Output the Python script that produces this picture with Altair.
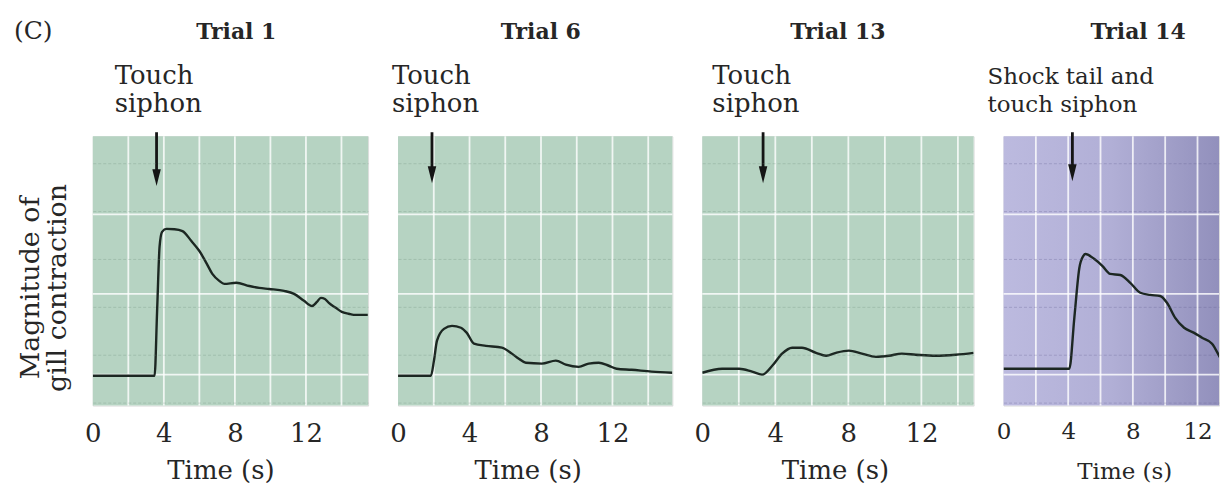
import altair as alt
import pandas as pd

# ---------------- data ----------------
trials = ["Trial 1", "Trial 6", "Trial 13", "Trial 14"]
stimulus = ["Touch\nsiphon", "Touch\nsiphon", "Touch\nsiphon", "Shock tail and\ntouch siphon"]

t1 = [0.0, 1.5, 3.48, 3.62, 3.76, 3.9, 4.15, 4.6, 5.05, 5.55, 6.0, 6.39, 6.73, 7.12, 7.4, 8.08,
      8.81, 9.37, 9.93, 10.77, 11.33, 11.89, 12.34, 12.62, 12.84, 13.07, 13.29, 13.68, 14.02,
      14.41, 14.69, 15.48]
y1 = [1.11, 1.11, 1.11, 3.5, 5.9, 6.45, 6.56, 6.55, 6.48, 6.11, 5.74, 5.30, 4.89, 4.63, 4.52, 4.56,
      4.44, 4.37, 4.33, 4.26, 4.15, 3.89, 3.70, 3.85, 4.00, 3.96, 3.81, 3.63, 3.48, 3.41, 3.37, 3.37]

t2 = [0.0, 1.84, 2.01, 2.18, 2.57, 3.02, 3.52, 3.85, 4.25, 4.92, 5.81, 6.37, 6.76, 7.15, 8.04,
      8.83, 9.39, 10.11, 10.67, 11.23, 11.79, 12.23, 13.07, 14.19, 15.35]
y2 = [1.11, 1.11, 1.67, 2.41, 2.85, 2.96, 2.89, 2.70, 2.30, 2.22, 2.15, 1.93, 1.74, 1.59, 1.56,
      1.67, 1.52, 1.44, 1.56, 1.59, 1.48, 1.37, 1.33, 1.26, 1.22]

t3 = [0.0, 1.09, 2.02, 2.73, 3.28, 3.83, 4.37, 4.92, 5.46, 6.23, 6.78, 7.32, 8.03, 8.74, 9.51,
      10.22, 10.93, 11.69, 12.79, 13.88, 14.86]
y3 = [1.22, 1.37, 1.37, 1.26, 1.15, 1.48, 1.93, 2.15, 2.15, 1.96, 1.85, 1.96, 2.04, 1.93, 1.81,
      1.85, 1.93, 1.89, 1.85, 1.89, 1.96]

t4 = [0.0, 4.07, 4.38, 4.69, 4.94, 5.06, 5.62, 6.11, 6.60, 7.22, 7.84, 8.46, 9.07, 9.69, 10.12,
      10.62, 11.17, 11.79, 12.28, 12.90, 13.40, 13.77]
y4 = [1.37, 1.37, 3.26, 5.11, 5.56, 5.63, 5.44, 5.19, 4.89, 4.85, 4.56, 4.19, 4.11, 4.07, 3.81,
      3.26, 2.89, 2.70, 2.52, 2.30, 1.78, 1.41]

arrow_t = [3.59, 1.90, 3.33, 4.26]
arrow_tip = [8.15, 8.26, 8.26, 8.33]
arrow_top = 10.15
stim_t = [1.23, -0.34, 0.55, -0.99]
title_t = [8.08, 7.99, 7.43, 8.33]
x_ticks = [0, 4, 8, 12]
v_grid = [2, 4, 6, 8, 10, 12, 14]
h_grid = [1.15, 4.15, 7.1]

times = [t1, t2, t3, t4]
values = [y1, y2, y3, y4]

# ---------------- layout / style ----------------
FONT = "DejaVu Serif"
TXT = "#262626"
widths = [276, 275, 272, 216]
t_max = [15.5, 15.35, 14.86, 13.33]
title_x = [128, 130, 133, 121]
H = 270
green = "#b6d3c2"
green_tex = "#6a8c7a"
purple_tex = "#5a588a"
purple = alt.LinearGradient(
    gradient="linear", x1=0, x2=1, y1=0, y2=0,
    stops=[alt.GradientStop(color="#bcbadf", offset=0),
           alt.GradientStop(color="#b1afd6", offset=0.5),
           alt.GradientStop(color="#9290bc", offset=1)])
texture = [round(i / 9, 3) for i in range(1, 90)]


def panel(i):
    small = i == 3
    fs = 23 if small else 26
    xenc = alt.X("t:Q", scale=alt.Scale(domain=[0, t_max[i]], nice=False, zero=False),
                 axis=alt.Axis(values=x_ticks, grid=False, ticks=False, tickSize=0, domain=False,
                               labelFont=FONT, labelFontSize=fs, labelColor=TXT,
                               labelPadding=15, labelFlush=False,
                               title="Time (s)", titleFont=FONT, titleFontSize=fs,
                               titleFontWeight="normal", titleColor=TXT,
                               titleBaseline="alphabetic", titleAlign="center",
                               titleX=title_x[i], titleY=73))
    yenc = alt.Y("v:Q", scale=alt.Scale(domain=[0, 10], nice=False, zero=False),
                 axis=alt.Axis(values=texture, grid=True, zindex=1,
                               gridColor=purple_tex if small else green_tex,
                               gridOpacity=0.28, gridWidth=1, gridDash=[3, 2],
                               labels=False, ticks=False, domain=False, title=None))

    trace = pd.DataFrame({"t": times[i], "v": values[i]})
    vg = pd.DataFrame({"t": [g for g in v_grid if g < t_max[i]]})
    hg = pd.DataFrame({"v": h_grid})
    arr = pd.DataFrame({"t": [arrow_t[i]], "top": [arrow_top], "v": [arrow_tip[i]]})
    stim = pd.DataFrame({"t": [stim_t[i]], "label": [stimulus[i]]})
    ttl = pd.DataFrame({"t": [title_t[i]], "label": [trials[i]]})
    bg = pd.DataFrame({"k": [0]})

    layers = [
        alt.Chart(bg).mark_rect(fill=purple if small else green, strokeWidth=0)
        .encode(x=alt.value(0), x2=alt.value(widths[i]), y=alt.value(0), y2=alt.value(H)),
        alt.Chart(vg).mark_rule(color="white", strokeWidth=1.8, opacity=0.8).encode(x=xenc),
        alt.Chart(hg).mark_rule(color="white", strokeWidth=1.8, opacity=0.8).encode(y=yenc),
        alt.Chart(trace).mark_line(color="#1c2722", strokeWidth=2.4, interpolate="monotone",
                                   clip=True)
        .encode(x=xenc, y=yenc),
        alt.Chart(arr).mark_rule(color="#151515", strokeWidth=2.8, y2Offset=-8)
        .encode(x=xenc, y=alt.Y("top:Q"), y2="v"),
        alt.Chart(arr).mark_point(shape="M-0.5,-1L0.5,-1L0,1Z", filled=True, size=289,
                                  color="#151515", opacity=1, yOffset=-8.5)
        .encode(x=xenc, y=yenc),
        alt.Chart(stim).mark_text(font=FONT, fontSize=23 if small else 26, color=TXT,
                                  align="left", baseline="alphabetic",
                                  lineBreak="\n", lineHeight=28)
        .encode(x=xenc, y=alt.value(-52), text="label:N"),
        alt.Chart(ttl).mark_text(font=FONT, fontSize=22, fontWeight="bold", color=TXT,
                                 align="center", baseline="alphabetic")
        .encode(x=xenc, y=alt.value(-98), text="label:N"),
    ]
    if i == 0:
        extra = pd.DataFrame({"label": ["(C)"], "ylab": ["Magnitude of\ngill contraction"]})
        layers.append(alt.Chart(extra).mark_text(font=FONT, fontSize=25, color=TXT,
                                                 align="left", baseline="alphabetic")
                      .encode(x=alt.value(-79), y=alt.value(-98), text="label:N"))
        layers.append(alt.Chart(extra).mark_text(font=FONT, fontSize=27, color=TXT, angle=270,
                                                 align="center", baseline="alphabetic",
                                                 lineBreak="\n", lineHeight=27)
                      .encode(x=alt.value(-54), y=alt.value(152), text="ylab:N"))
    return alt.layer(*layers).properties(width=widths[i], height=H)


chart = alt.hconcat(*[panel(i) for i in range(4)], spacing=30, bounds="flush").properties(
    padding={"left": 5, "top": 9, "right": 0, "bottom": 0}
).configure_view(strokeWidth=0).configure(background="white")

chart.save("out.html", embed_options={"renderer": "svg", "actions": False})
